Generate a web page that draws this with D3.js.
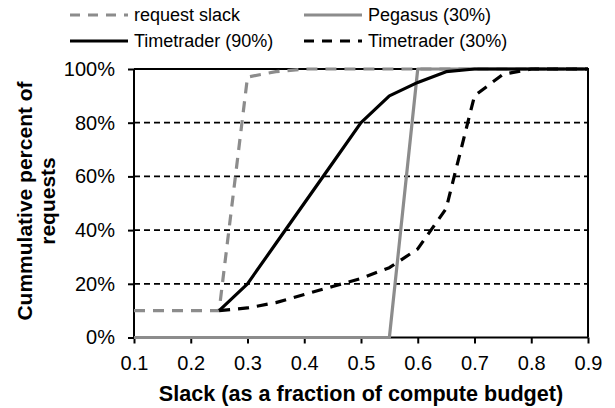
<!DOCTYPE html>
<html><head><meta charset="utf-8">
<script src="https://cdn.jsdelivr.net/npm/d3@7"></script>
<style>body{margin:0;background:#fff}svg{display:block}</style>
</head><body>
<svg id="c" width="615" height="408"></svg>
<script>
const seriesNames = ["request slack","Pegasus (30%)","Timetrader (90%)","Timetrader (30%)"];
const requestSlack = [[0.1,10],[0.25,10],[0.3,97],[0.35,99],[0.4,100],[0.9,100]];
const pegasus30 = [[0.1,0],[0.55,0],[0.6,100],[0.9,100]];
const timetrader90 = [[0.25,10],[0.3,20],[0.35,35],[0.4,50],[0.45,65],[0.5,80],[0.55,90],[0.6,95],[0.65,99],[0.7,100],[0.9,100]];
const timetrader30 = [[0.25,10],[0.3,11],[0.35,13],[0.4,16],[0.45,19],[0.5,22],[0.55,26],[0.6,33],[0.65,48],[0.7,90],[0.75,98],[0.8,100],[0.9,100]];
const xTicks = [0.1,0.2,0.3,0.4,0.5,0.6,0.7,0.8,0.9];
const yTicks = [0,20,40,60,80,100];

const svg = d3.select("#c");
const L=134, R=588, T=69, B=337.5;
const x = d3.scaleLinear().domain([0.1,0.9]).range([L,R]);
const y = d3.scaleLinear().domain([0,100]).range([B,T]);
const font = "'Liberation Sans', Arial, sans-serif";
const gray = "#8c8c8c";

// gridlines
svg.append("g").selectAll("line").data(yTicks.filter(d=>d>0&&d<100)).join("line")
  .attr("x1",L).attr("x2",R).attr("y1",d=>y(d)).attr("y2",d=>y(d))
  .attr("stroke","#000").attr("stroke-width",1.8).attr("stroke-dasharray","6,4");

// border top/right
svg.append("path").attr("d",`M${L},${T}H${R}V${B}`).attr("fill","none").attr("stroke","#000").attr("stroke-width",2);

// axes
const xa = svg.append("g").attr("transform",`translate(0,${B})`)
  .call(d3.axisBottom(x).tickValues(xTicks).tickSize(6).tickPadding(12).tickFormat(d3.format(".1f")));
const ya = svg.append("g").attr("transform",`translate(${L},0)`)
  .call(d3.axisLeft(y).tickValues(yTicks).tickSize(6).tickPadding(13).tickFormat(d=>d+"%"));
[xa,ya].forEach(g=>{
  g.select(".domain").attr("stroke","#000").attr("stroke-width",2).attr("d", g===xa?`M${L},0H${R}`:`M0,${T}V${B}`);
  g.selectAll(".tick line").attr("stroke","#000").attr("stroke-width",2);
  g.selectAll("text").attr("font-family",font).attr("font-size",20).attr("fill","#000");
});

const line = d3.line().x(d=>x(d[0])).y(d=>y(d[1]));
const styles = [
  {data:requestSlack, color:gray, dash:"11,8"},
  {data:pegasus30, color:gray, dash:null},
  {data:timetrader90, color:"#000", dash:null},
  {data:timetrader30, color:"#000", dash:"11,8"}
];
styles.forEach(s=>{
  svg.append("path").attr("d",line(s.data)).attr("fill","none")
    .attr("stroke",s.color).attr("stroke-width",3.2)
    .attr("stroke-dasharray",s.dash).attr("stroke-linejoin","round");
});

// legend
const legPos = [[70,15],[304,15],[70,41],[304,41]];
styles.forEach((s,i)=>{
  const [lx,ly]=legPos[i];
  svg.append("line").attr("x1",lx).attr("x2",lx+58).attr("y1",ly).attr("y2",ly)
    .attr("stroke",s.color).attr("stroke-width",3.2).attr("stroke-dasharray",s.dash?"10,8":null);
  svg.append("text").attr("x",lx+64).attr("y",ly).attr("dy","0.35em")
    .attr("font-family",font).attr("font-size",18).text(seriesNames[i]);
});

// axis titles
svg.append("text").attr("x",(L+R)/2).attr("y",401).attr("text-anchor","middle")
  .attr("font-family",font).attr("font-weight","bold").attr("font-size",21.6).text("Slack (as a fraction of compute budget)");
const yt = svg.append("text").attr("transform","translate(32,201) rotate(-90)").attr("text-anchor","middle")
  .attr("font-family",font).attr("font-weight","bold").attr("font-size",21);
yt.append("tspan").attr("x",0).attr("y",0).text("Cummulative percent of");
yt.append("tspan").attr("x",0).attr("y",23).text("requests");
</script>
</body></html>
